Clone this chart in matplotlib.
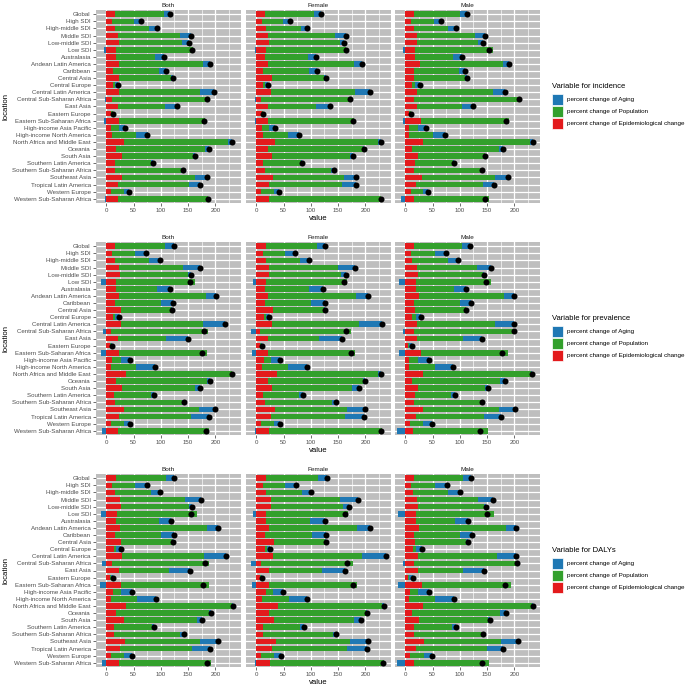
import matplotlib
matplotlib.use("Agg")
import matplotlib.pyplot as plt
import numpy as np
from matplotlib.patches import Rectangle

plt.rcParams['font.family'] = ['Liberation Sans', 'DejaVu Sans']

locations = ["Global", "High SDI", "High-middle SDI", "Middle SDI", "Low-middle SDI", "Low SDI",
             "Australasia", "Andean Latin America", "Caribbean", "Central Asia", "Central Europe",
             "Central Latin America", "Central Sub-Saharan Africa", "East Asia", "Eastern Europe",
             "Eastern Sub-Saharan Africa", "High-income Asia Pacific", "High-income North America",
             "North Africa and Middle East", "Oceania", "South Asia", "Southern Latin America",
             "Southern Sub-Saharan Africa", "Southeast Asia", "Tropical Latin America",
             "Western Europe", "Western Sub-Saharan Africa"]
sexes = ["Both", "Female", "Male"]
measures = ["incidence", "prevalence", "DALYs"]
legend_labels = ["percent change of Aging", "percent change of Population",
                 "percent change of Epidemiological change"]
x_ticks = [0, 50, 100, 150, 200]

# ---- incidence ----
inc_both_epi = [15, 10, 15, 22, 23, 18, 17, 23, 12, 24, 12, 24, 10, 22, 8, 24, 9, 10, 33, 17, 28, 15, 15, 29, 22, 9, 21]
inc_both_pop = [90, 40, 64, 114, 116, 141, 73, 155, 85, 95, 3, 147, 176, 85, 4, 157, 14, 44, 191, 164, 131, 67, 122, 133, 129, 23, 166]
inc_both_age = [11, 12, 14, 19, 12, -4, 16, 13, 13, 3, 7, 26, -2, 23, 1, -4, 12, 22, 6, 8, 4, 3, 3, 22, 21, 9, -3]
inc_both_tot = [116, 63, 93, 155, 151, 158, 106, 191, 110, 122, 22, 197, 185, 130, 13, 180, 35, 75, 230, 189, 163, 85, 140, 184, 172, 41, 187]

inc_female_epi = [16, 11, 17, 22, 23, 17, 16, 22, 13, 28, 13, 27, 9, 21, 10, 21, 11, 12, 35, 21, 28, 13, 16, 31, 24, 9, 23]
inc_female_pop = [90, 38, 64, 122, 131, 147, 78, 157, 84, 96, 3, 154, 163, 89, 2, 158, 12, 46, 188, 175, 143, 68, 121, 130, 133, 23, 206]
inc_female_age = [13, 13, 12, 20, 6, -3, 16, 15, 15, 4, 5, 28, -3, 26, 1, -3, 11, 20, 6, 2, 6, 2, 5, 21, 25, 9, -1]
inc_female_tot = [119, 62, 93, 164, 160, 164, 110, 194, 112, 128, 21, 209, 172, 136, 13, 178, 34, 78, 229, 198, 177, 83, 142, 182, 182, 41, 229]

inc_male_epi = [15, 10, 15, 21, 22, 18, 18, 26, 15, 16, 12, 21, 16, 22, 6, 28, 7, 6, 32, 13, 23, 17, 16, 31, 20, 11, 15]
inc_male_pop = [86, 43, 63, 107, 111, 142, 70, 154, 83, 94, 6, 139, 192, 81, 4, 163, 17, 45, 196, 159, 124, 71, 125, 134, 123, 21, 139]
inc_male_age = [12, 13, 14, 18, 9, -5, 15, 11, 12, 3, 9, 23, 0, 22, 0, -5, 13, 22, 7, 8, 0, 1, 0, 23, 20, 10, -8]
inc_male_tot = [113, 66, 92, 146, 142, 154, 103, 191, 110, 113, 27, 183, 208, 125, 10, 185, 37, 73, 235, 180, 147, 89, 141, 188, 163, 42, 147]

# ---- prevalence ----
prev_both_epi = [16, 11, 15, 24, 25, 18, 17, 24, 15, 26, 13, 26, 9, 22, 6, 24, 11, 9, 36, 18, 29, 14, 16, 32, 24, 9, 21]
prev_both_pop = [91, 41, 64, 117, 124, 145, 76, 158, 85, 93, 3, 152, 177, 88, 3, 161, 15, 46, 194, 167, 134, 68, 122, 138, 131, 23, 168]
prev_both_age = [17, 21, 19, 30, 7, -9, 24, 20, 23, 2, 8, 39, -7, 40, 2, -9, 18, 35, 1, 6, 8, 5, 5, 30, 33, 12, -8]
prev_both_tot = [124, 73, 98, 171, 156, 154, 117, 202, 123, 121, 24, 217, 179, 150, 11, 175, 44, 90, 231, 191, 171, 87, 143, 200, 188, 44, 182]

prev_female_epi = [17, 12, 17, 23, 24, 17, 16, 22, 16, 30, 14, 29, 7, 21, 6, 21, 14, 11, 38, 22, 29, 13, 16, 34, 26, 8, 23]
prev_female_pop = [94, 40, 63, 126, 132, 149, 81, 160, 85, 94, 4, 160, 167, 94, 2, 160, 13, 47, 186, 174, 146, 66, 122, 133, 137, 24, 207]
prev_female_age = [15, 18, 17, 32, 9, -7, 25, 23, 25, 2, 5, 42, -9, 43, 3, -8, 17, 34, 5, 4, 13, 6, 8, 33, 35, 12, -2]
prev_female_tot = [126, 70, 97, 181, 165, 160, 122, 205, 126, 126, 23, 231, 165, 158, 11, 174, 44, 92, 229, 200, 188, 85, 146, 200, 198, 44, 228]

prev_male_epi = [15, 10, 12, 21, 24, 19, 19, 25, 15, 17, 12, 22, 15, 22, 4, 29, 6, 6, 33, 12, 24, 17, 15, 32, 19, 9, 14]
prev_male_pop = [88, 44, 66, 111, 118, 139, 71, 156, 86, 94, 7, 142, 184, 83, 2, 160, 17, 48, 198, 161, 122, 67, 123, 140, 126, 23, 138]
prev_male_age = [15, 20, 19, 26, 3, -11, 22, 19, 20, 1, 9, 35, -5, 36, 6, -12, 21, 34, 1, 10, 5, 7, 2, 30, 31, 16, -15]
prev_male_tot = [118, 74, 97, 158, 145, 148, 112, 200, 121, 112, 28, 199, 200, 141, 12, 178, 44, 88, 232, 183, 151, 91, 140, 202, 176, 48, 137]

# ---- DALYs ----
daly_both_epi = [17, 11, 16, 25, 26, 19, 18, 25, 15, 26, 14, 28, 10, 24, 6, 26, 12, 9, 36, 18, 32, 14, 14, 35, 25, 9, 23]
daly_both_pop = [92, 42, 65, 120, 126, 147, 78, 159, 86, 94, 3, 152, 178, 90, 3, 162, 15, 47, 194, 170, 135, 69, 122, 137, 133, 24, 169]
daly_both_age = [16, 21, 18, 29, 6, -9, 23, 20, 23, 3, 9, 39, -8, 39, 3, -11, 20, 35, 2, 4, 8, 4, 6, 32, 32, 14, -8]
daly_both_tot = [125, 74, 99, 174, 158, 156, 119, 204, 124, 123, 26, 219, 181, 153, 12, 178, 47, 91, 232, 192, 175, 87, 142, 204, 190, 47, 184]

daly_female_epi = [18, 13, 18, 26, 26, 18, 18, 23, 16, 32, 16, 31, 8, 23, 6, 23, 17, 11, 39, 23, 32, 13, 13, 36, 28, 9, 25]
daly_female_pop = [95, 40, 65, 128, 133, 151, 81, 162, 86, 94, 4, 162, 169, 97, 2, 162, 13, 48, 191, 178, 148, 67, 127, 136, 138, 23, 209]
daly_female_age = [17, 20, 17, 32, 11, -7, 27, 24, 26, 2, 5, 44, -9, 42, 3, -8, 19, 34, 4, 2, 12, 8, 6, 33, 37, 14, -2]
daly_female_tot = [130, 73, 100, 186, 170, 163, 126, 209, 128, 128, 25, 237, 167, 162, 11, 177, 49, 93, 234, 203, 192, 88, 146, 205, 203, 46, 232]

daly_male_epi = [15, 10, 14, 21, 24, 20, 19, 25, 15, 18, 14, 23, 16, 23, 4, 30, 8, 6, 33, 13, 25, 16, 15, 34, 19, 9, 15]
daly_male_pop = [90, 44, 65, 113, 121, 142, 72, 159, 86, 94, 5, 145, 187, 83, 2, 163, 16, 48, 199, 161, 126, 70, 125, 141, 131, 25, 139]
daly_male_age = [16, 22, 21, 26, 3, -13, 24, 19, 21, 3, 11, 35, -5, 38, 8, -13, 20, 36, 3, 10, 4, 6, 2, 32, 29, 15, -15]
daly_male_tot = [121, 76, 100, 160, 148, 150, 115, 203, 122, 115, 30, 203, 204, 144, 14, 182, 44, 90, 235, 184, 155, 92, 142, 207, 179, 49, 140]

data = {
    "incidence": {"Both": (inc_both_epi, inc_both_pop, inc_both_age, inc_both_tot),
                  "Female": (inc_female_epi, inc_female_pop, inc_female_age, inc_female_tot),
                  "Male": (inc_male_epi, inc_male_pop, inc_male_age, inc_male_tot)},
    "prevalence": {"Both": (prev_both_epi, prev_both_pop, prev_both_age, prev_both_tot),
                   "Female": (prev_female_epi, prev_female_pop, prev_female_age, prev_female_tot),
                   "Male": (prev_male_epi, prev_male_pop, prev_male_age, prev_male_tot)},
    "DALYs": {"Both": (daly_both_epi, daly_both_pop, daly_both_age, daly_both_tot),
              "Female": (daly_female_epi, daly_female_pop, daly_female_age, daly_female_tot),
              "Male": (daly_male_epi, daly_male_pop, daly_male_age, daly_male_tot)},
}

C_AGE = "#1F78B4"
C_POP = "#33A02C"
C_EPI = "#E31A1C"
PANEL_BG = "#BEBEBE"

W, H = 685, 686
fig = plt.figure(figsize=(W / 100, H / 100), dpi=100)

def px_axes(x0, y0, x1, y1):
    return fig.add_axes([x0 / W, 1 - y1 / H, (x1 - x0) / W, (y1 - y0) / H])

col_x = [(96, 241), (246, 391), (395, 540)]
row_y = [(10, 203), (242, 435), (474, 667)]

FS_TICK = 4.4
FS_TITLE = 5.6
FS_STRIP = 4.6
FS_LEG_T = 5.5
FS_LEG = 4.5

ypos = np.arange(len(locations))

for r, meas in enumerate(measures):
    y0, y1 = row_y[r]
    for c, sex in enumerate(sexes):
        x0, x1 = col_x[c]
        ax = px_axes(x0, y0, x1, y1)
        epi, pop, age, tot = [np.array(v, dtype=float) for v in data[meas][sex]]
        ax.set_facecolor(PANEL_BG)
        ax.set_xlim(-19, 247)
        ax.set_ylim(len(locations) - 0.4, -0.6)
        # grid
        for v in [25, 75, 125, 175, 225]:
            ax.axvline(v, color="white", lw=0.45, zorder=0.5)
        for v in x_ticks:
            ax.axvline(v, color="white", lw=0.9, zorder=0.6)
        for yy in ypos:
            ax.axhline(yy, color="white", lw=0.9, zorder=0.6)
        h = 0.8
        ax.barh(ypos, epi, left=0, height=h, color=C_EPI, zorder=2, linewidth=0)
        ax.barh(ypos, pop, left=epi, height=h, color=C_POP, zorder=2, linewidth=0)
        age_left = np.where(age >= 0, epi + pop, 0)
        ax.barh(ypos, age, left=age_left, height=h, color=C_AGE, zorder=2, linewidth=0)
        ax.scatter(tot, ypos, s=19, color="black", zorder=3, linewidths=0)
        for sp in ax.spines.values():
            sp.set_visible(False)
        ax.set_xticks(x_ticks)
        ax.set_xticklabels([str(t) for t in x_ticks])
        ax.tick_params(axis="both", length=2.2, width=0.5, color="#333333",
                       labelsize=FS_TICK, labelcolor="#4D4D4D", pad=1.5)
        ax.set_yticks(ypos)
        if c == 0:
            ax.set_yticklabels(locations)
        else:
            ax.set_yticklabels([])
            ax.tick_params(axis="y", length=0)
        ax.set_title(sex, fontsize=FS_STRIP, color="#1A1A1A", pad=2.5)
        if c == 0:
            ax.set_ylabel("location", fontsize=FS_TITLE, labelpad=1)
            ax.yaxis.set_label_coords((9.5 - x0) / (x1 - x0), 0.5)
        if c == 1:
            ax.set_xlabel("value", fontsize=FS_TITLE, labelpad=1.5)

    # legend
    cy = (y0 + y1) / 2
    lx = 552
    fig.text(lx / W, 1 - (cy - 19.5) / H, "Variable for " + meas, fontsize=FS_LEG_T,
             va="center", ha="left")
    for k, (lab, col) in enumerate(zip(legend_labels, [C_AGE, C_POP, C_EPI])):
        kc = cy - 7 + 12 * k
        fig.patches.append(Rectangle((lx / W, 1 - (kc + 5.3) / H), 11 / W, 10.6 / H,
                                     transform=fig.transFigure, facecolor=col,
                                     edgecolor="white", lw=0.5))
        fig.text(567 / W, 1 - kc / H, lab, fontsize=FS_LEG, va="center", ha="left")

fig.savefig("out.png", dpi=100)
